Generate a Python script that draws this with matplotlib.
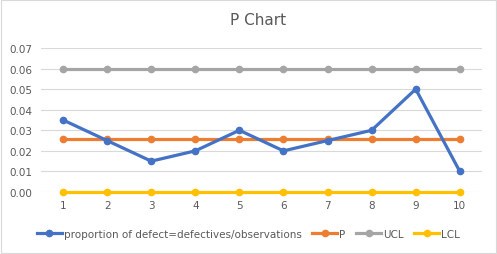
import numpy as np
import matplotlib.pyplot as plt

samples = [1, 2, 3, 4, 5, 6, 7, 8, 9, 10]
proportion = [0.035, 0.025, 0.015, 0.02, 0.03, 0.02, 0.025, 0.03, 0.05, 0.01]
p_bar = [0.026] * 10
ucl = [0.06] * 10
lcl = [0.0] * 10

fig = plt.figure(figsize=(4.97, 2.55), dpi=100)
ax = fig.add_axes([0.0825, 0.243, 0.887, 0.565])

x = np.arange(len(samples))
kw = dict(linewidth=2.3, marker='o', markersize=4.5, clip_on=False)
ax.plot(x, proportion, color='#4472C4', label='proportion of defect=defectives/observations', zorder=5, **kw)
ax.plot(x, p_bar, color='#ED7D31', label='P', zorder=4, **kw)
ax.plot(x, ucl, color='#A5A5A5', label='UCL', zorder=3, **kw)
ax.plot(x, lcl, color='#FFC000', label='LCL', zorder=3, **kw)

ax.set_xlim(-0.5, len(samples) - 0.5)
ax.set_ylim(0, 0.07)
ax.set_yticks(np.arange(0, 0.071, 0.01))
ax.set_yticklabels([f'{v:.2f}' for v in np.arange(0, 0.071, 0.01)])
ax.set_xticks(x)
ax.set_xticklabels([str(s) for s in samples])
ax.grid(axis='y', color='#D9D9D9', linewidth=0.8)
ax.set_axisbelow(True)
for s in ax.spines.values():
    s.set_visible(False)
ax.tick_params(length=0, labelsize=7.5, colors='#595959', pad=6)

fig.suptitle('P Chart', x=0.52, y=0.95, fontsize=11, color='#595959')
fig.legend(loc='center', bbox_to_anchor=(0.5, 0.08), ncol=4, frameon=False,
           fontsize=7.5, labelcolor='#595959', handlelength=2.4, handletextpad=0.2,
           columnspacing=1.0)

fig.patches.append(plt.Rectangle((0.002, 0.004), 0.995, 0.992, transform=fig.transFigure,
                                 fill=False, edgecolor='#D9D9D9', linewidth=0.8))
fig.savefig('out.png', dpi=100)
